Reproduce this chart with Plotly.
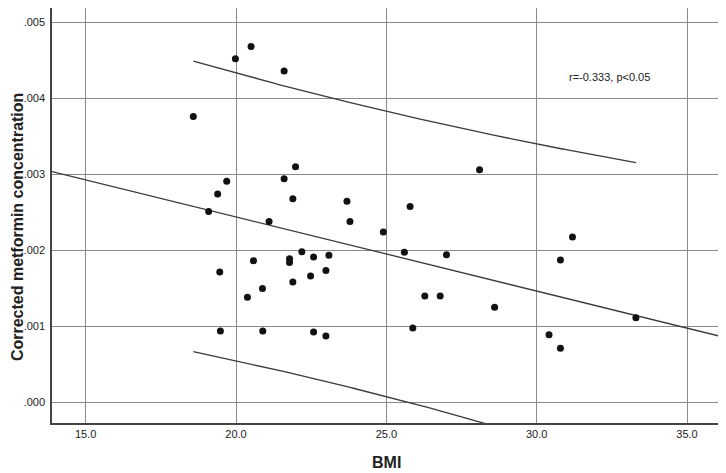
import numpy as np
import plotly.graph_objects as go

bmi = [19.98, 20.50, 21.60, 18.58, 21.98, 21.60, 19.69, 19.39, 21.89, 23.69,
       19.09, 21.10, 23.79, 28.10, 25.79, 24.90, 31.19, 19.46, 20.58, 21.78,
       21.78, 22.19, 22.58, 23.09, 22.99, 22.48, 21.89, 20.88, 20.38, 19.48,
       20.89, 22.58, 22.99, 25.60, 27.00, 26.28, 26.79, 28.60, 25.88, 33.30,
       30.41, 30.79, 30.79]
conc = [0.00452, 0.00468, 0.00436, 0.00376, 0.00310, 0.00294, 0.00291, 0.00274, 0.00268, 0.002645,
        0.00251, 0.00238, 0.00238, 0.00306, 0.002575, 0.00224, 0.002175, 0.001715, 0.001864, 0.00189,
        0.00184, 0.001982, 0.001912, 0.001934, 0.001733, 0.001662, 0.001583, 0.001496, 0.001382, 0.000938,
        0.000938, 0.000925, 0.000872, 0.001974, 0.001943, 0.001399, 0.001399, 0.00125, 0.000978, 0.001114,
        0.00089, 0.00071, 0.001872]

y_tickvals = [0.000, 0.001, 0.002, 0.003, 0.004, 0.005]
y_ticktext = [".000", ".001", ".002", ".003", ".004", ".005"]
x_tickvals = [15.0, 20.0, 25.0, 30.0, 35.0]
annotation_text = "r=-0.333, p<0.05"
x_title = "BMI"
y_title = "Corrected metformin concentration"

x_range = [13.88, 36.13]
y_range = [-0.000272, 0.005188]

x = np.array(bmi)
y = np.array(conc)
n = len(x)
slope, intercept = np.polyfit(x, y, 1)
resid = y - (slope * x + intercept)
s = np.sqrt(np.sum(resid ** 2) / (n - 2))
xbar = x.mean()
sxx = np.sum((x - xbar) ** 2)
t_crit = 2.0195

xf = np.array(x_range)
yf = slope * xf + intercept

xp = np.linspace(x.min(), x.max(), 200)
yp = slope * xp + intercept
hw = t_crit * s * np.sqrt(1 + 1 / n + (xp - xbar) ** 2 / sxx)

FONT = "Arial, Liberation Sans, sans-serif"
line_col = "#3a3a3a"
fig = go.Figure()
fig.add_trace(go.Scatter(x=xp, y=yp + hw, mode="lines", line=dict(color=line_col, width=1.3), hoverinfo="skip"))
fig.add_trace(go.Scatter(x=xp, y=yp - hw, mode="lines", line=dict(color=line_col, width=1.3), hoverinfo="skip"))
fig.add_trace(go.Scatter(x=xf, y=yf, mode="lines", line=dict(color=line_col, width=1.3), hoverinfo="skip"))
fig.add_trace(go.Scatter(x=bmi, y=conc, mode="markers",
                         marker=dict(color="#111111", size=7, line=dict(width=0))))

fig.add_annotation(x=31.0, y=0.00428, xref="x", yref="y", text=annotation_text, showarrow=False,
                   xanchor="left", yanchor="middle",
                   font=dict(family=FONT, size=11, color="#222222"))
fig.add_annotation(x=0.5, y=0, xref="paper", yref="paper", text="<b>" + x_title + "</b>",
                   showarrow=False, xanchor="center", yanchor="middle", yshift=-39,
                   font=dict(family=FONT, size=16, color="#222222"))
fig.add_annotation(x=0, y=0.472, xref="paper", yref="paper", text="<b>" + y_title + "</b>",
                   showarrow=False, xanchor="center", yanchor="middle", xshift=-35, textangle=-90,
                   font=dict(family=FONT, size=16, color="#222222"))

fig.update_layout(
    width=718, height=465,
    margin=dict(l=44, r=5, t=0, b=50),
    paper_bgcolor="white", plot_bgcolor="white",
    showlegend=False,
    font=dict(family=FONT, color="#222222"),
)
fig.update_xaxes(range=x_range, tickvals=x_tickvals, tickformat=".1f",
                 showgrid=True, gridcolor="#8a8a8a", gridwidth=1,
                 showline=True, linecolor="#444444", linewidth=1.5,
                 zeroline=False, ticks="", tickfont=dict(size=11, color="#222222"))
fig.update_yaxes(range=y_range, tickvals=y_tickvals, ticktext=y_ticktext,
                 showgrid=True, gridcolor="#8a8a8a", gridwidth=1,
                 showline=True, linecolor="#444444", linewidth=1.5,
                 zeroline=False, ticks="", ticklabelstandoff=3,
                 tickfont=dict(size=11, color="#222222"))

fig.write_html("out.html")
